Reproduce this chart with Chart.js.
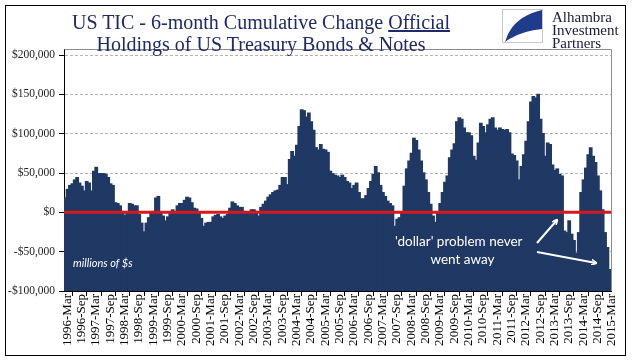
<!DOCTYPE html>
<html><head><meta charset="utf-8">
<script src="https://cdn.jsdelivr.net/npm/chart.js@4.4.1/dist/chart.umd.min.js"></script>
<style>
html,body{margin:0;padding:0;background:#fff;}
#wrap{position:relative;width:641px;height:361px;overflow:hidden;background:#fff;}
#c{position:absolute;left:0;top:0;}
.frame{position:absolute;left:5px;top:5px;width:621px;height:351px;border:1px solid #000;box-sizing:border-box;pointer-events:none;}
.title{position:absolute;left:0;width:522px;text-align:center;font-family:"Liberation Serif",serif;font-size:20px;color:#1f2a6b;white-space:nowrap;line-height:22px;}
.logo{position:absolute;left:552px;font-family:"Liberation Serif",serif;font-size:15px;color:#1a1a3a;line-height:13px;white-space:nowrap;}
.note{position:absolute;font-family:Lato,"Open Sans",sans-serif;color:#fff;white-space:nowrap;}
</style>
</head><body>
<div id="wrap">
<canvas id="c" width="641" height="361"></canvas>
<div class="title" style="top:11px">US TIC - 6-month Cumulative Change <span style="text-decoration:underline">Official</span></div>
<div class="title" style="top:33px">Holdings of US Treasury Bonds &amp; Notes</div>
<svg style="position:absolute;left:502px;top:9px" width="42" height="35" viewBox="0 0 42 35">
<rect x="0.5" y="0.5" width="40" height="33" fill="#fff" stroke="#c8c8c8"/>
<path d="M40 1 L40 20 Q18 22 3 33 Q10 8 40 1 Z" fill="#1f3c8c"/>
</svg>
<div class="logo" style="top:11px">Alhambra</div>
<div class="logo" style="top:24px">Investment</div>
<div class="logo" style="top:37px">Partners</div>
<div class="note" style="left:73px;top:256px;font-size:11px;font-style:italic;">millions of $s</div>
<div class="note" style="left:395px;top:233px;font-size:13.5px;">'dollar' problem never</div>
<div class="note" style="left:395px;top:251px;width:135px;text-align:center;font-size:13.5px;">went away</div>
<svg style="position:absolute;left:0;top:0" width="641" height="361">
<defs><marker id="ah" markerWidth="6" markerHeight="6" refX="5" refY="3" orient="auto" markerUnits="userSpaceOnUse"><path d="M0,0 L6,3 L0,6" fill="none" stroke="#fff" stroke-width="1.5"/></marker></defs>
<line x1="537" y1="243" x2="557" y2="220" stroke="#fff" stroke-width="2" marker-end="url(#ah)"/>
<line x1="537" y1="252" x2="596" y2="263" stroke="#fff" stroke-width="2" marker-end="url(#ah)"/>
</svg>
<div class="frame"></div>
</div>
<script>
// Monthly 6-month cumulative change, millions of USD, 1996-Mar .. 2015-Mar
const startYear = 1996, startMonth = 2; // March (0-based)
const monthNames = ['Jan','Feb','Mar','Apr','May','Jun','Jul','Aug','Sep','Oct','Nov','Dec'];
const values = [
 18000,29000,34000,36000,41000,44000,37000,33000,27000,39000,37000,27000,
 52000,57000,49000,49000,49000,48000,44000,36000,34000,12000,11000,8000,
 1000,-4000,-1000,11000,10000,8000,8000,-3000,-14000,-25000,-14000,-7000,
 0,1000,18000,20000,-1000,-5000,-11000,-6000,-2000,3000,-1000,8000,
 11000,11000,15000,19000,18000,12000,5000,4000,0,-8000,-18000,-14000,
 -13000,-13000,-6000,-4000,-3000,-6000,-8000,-5000,-3000,5000,13000,11000,
 8000,6000,6000,1000,-1000,0,3000,3000,1000,-5000,6000,10000,
 14000,19000,22000,25000,27000,28000,34000,44000,44000,35000,67000,77000,
 71000,85000,109000,130000,129000,121000,126000,115000,104000,82000,79000,86000,
 80000,79000,76000,52000,49000,47000,46000,44000,47000,44000,39000,37000,
 30000,34000,37000,25000,17000,17000,21000,30000,39000,48000,58000,50000,
 34000,25000,20000,14000,11000,8000,-18000,-9000,-7000,-1000,33000,55000,
 65000,75000,94000,91000,79000,65000,50000,41000,25000,10000,-5000,-13000,
 -1000,11000,25000,38000,46000,69000,79000,87000,115000,120000,118000,107000,
 101000,101000,97000,71000,66000,88000,113000,109000,101000,111000,118000,120000,
 107000,104000,107000,105000,104000,105000,101000,74000,72000,65000,41000,58000,
 73000,90000,115000,140000,147000,145000,150000,118000,100000,71000,88000,86000,
 60000,53000,55000,48000,46000,-24000,-26000,-11000,-28000,-36000,-52000,-26000,
 25000,41000,56000,73000,82000,71000,63000,46000,27000,3000,-26000,-45000,
 -73000
];
const categories = values.map((v, i) => {
  const m = startMonth + i;
  return (startYear + Math.floor(m / 12)) + '-' + monthNames[m % 12];
});
const labelEvery = 6;
const yTicks = [-100000, -50000, 0, 50000, 100000, 150000, 200000];

const zeroLine = {
  id: 'zeroLine',
  afterDatasetsDraw(chart) {
    const {ctx, chartArea, scales} = chart;
    const y = scales.y.getPixelForValue(0);
    ctx.save();
    ctx.strokeStyle = '#d7191c';
    ctx.lineWidth = 3;
    ctx.beginPath();
    ctx.moveTo(chartArea.left, y);
    ctx.lineTo(chartArea.right, y);
    ctx.stroke();
    ctx.strokeStyle = '#8c8c8c';
    ctx.lineWidth = 1;
    ctx.beginPath();
    ctx.moveTo(chartArea.left, 49.5);
    ctx.lineTo(chartArea.right + 0.5, 49.5);
    ctx.lineTo(chartArea.right + 0.5, chartArea.bottom);
    ctx.stroke();
    ctx.beginPath();
    ctx.strokeStyle = '#000';
    ctx.moveTo(chartArea.left + 0.5, 49.5);
    ctx.lineTo(chartArea.left + 0.5, chartArea.top);
    ctx.stroke();
    ctx.restore();
  }
};

new Chart(document.getElementById('c'), {
  type: 'bar',
  data: {
    labels: categories,
    datasets: [{
      data: values,
      base: yTicks[0],
      backgroundColor: '#1f3864',
      borderWidth: 0,
      inflateAmount: 0.7,
      barPercentage: 1.0,
      categoryPercentage: 1.0
    }]
  },
  options: {
    responsive: false,
    animation: false,
    events: [],
    layout: {padding: {left: 0, right: 30, top: 55, bottom: 0}},
    plugins: {legend: {display: false}, tooltip: {enabled: false}},
    scales: {
      x: {
        afterFit(s) { s.height = 70; },
        grid: {drawOnChartArea: false, tickLength: 5, tickColor: '#000', offset: true},
        border: {color: '#000', width: 1},
        ticks: {
          autoSkip: false, maxRotation: 90, minRotation: 90, padding: -2, labelOffset: 2,
          color: '#000',
          font: {family: '"Liberation Serif", serif', size: 13},
          callback(v, i) { return i % labelEvery === 0 ? categories[i] : null; }
        }
      },
      y: {
        min: yTicks[0], max: yTicks[yTicks.length - 1],
        afterFit(s) { s.width = 64; },
        afterBuildTicks(s) { s.ticks = yTicks.map(v => ({value: v})); },
        grid: {color: '#b4b4b4', tickColor: '#000', tickLength: 5, lineWidth: 1},
        border: {color: '#000', width: 1, dash: [3, 2]},
        ticks: {
          padding: 4, color: '#222',
          font: {family: '"Liberation Serif", serif', size: 11.5},
          callback(v) { return (v < 0 ? '-' : '') + '$' + Math.abs(v).toLocaleString('en-US'); }
        }
      }
    }
  },
  plugins: [zeroLine]
});
</script>
</body></html>
